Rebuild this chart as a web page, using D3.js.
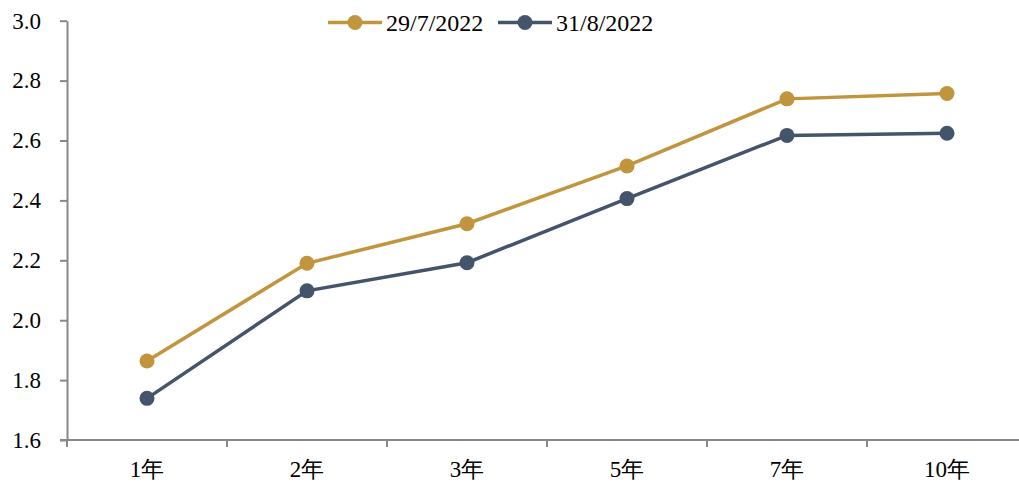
<!DOCTYPE html>
<html><head><meta charset="utf-8">
<script src="https://cdn.jsdelivr.net/npm/d3@7"></script>
</head><body style="margin:0">
<svg id="c" width="1019" height="482"></svg>
<script>
const categories = ["1年","2年","3年","5年","7年","10年"];
const seriesNames = ["29/7/2022","31/8/2022"];
const series1 = [1.864, 2.190, 2.322, 2.515, 2.739, 2.757];
const series2 = [1.739, 2.098, 2.192, 2.406, 2.617, 2.624];
const yTicks = [1.6,1.8,2.0,2.2,2.4,2.6,2.8,3.0];
const colors = ["#C0953D","#44546A"];

const svg = d3.select("#c");
const x = d3.scaleBand().domain(categories).range([67,1027]);
const y = d3.scaleLinear().domain([1.6,3.0]).range([440,20.7]);

// y axis line + ticks
const ya = svg.append("g").attr("transform","translate(67,0)")
  .call(d3.axisLeft(y).tickValues(yTicks).tickFormat("").tickSize(7).tickSizeOuter(0));
ya.select(".domain").attr("stroke","#888").attr("stroke-width",2);
ya.selectAll(".tick line").attr("stroke","#888").attr("stroke-width",2);
ya.selectAll(".tick text").remove();
svg.selectAll(".ylab").data(yTicks).join("text").attr("class","ylab")
  .attr("x",41).attr("y",d=>y(d)).attr("dy","0.34em").attr("text-anchor","end")
  .style("font-family",'"Liberation Serif"').style("font-size","23px").attr("fill","#000")
  .text(d=>d3.format(".1f")(d));

// x axis
svg.append("line").attr("x1",60).attr("x2",1019).attr("y1",440).attr("y2",440).attr("stroke","#888").attr("stroke-width",2);
const bounds = categories.map(c=>x(c)).concat([x.range()[1]]);
svg.selectAll(".bt").data(bounds).join("line").attr("class","bt")
  .attr("x1",d=>d).attr("x2",d=>d).attr("y1",440).attr("y2",447).attr("stroke","#888").attr("stroke-width",2);
svg.selectAll(".xlab").data(categories).join("text").attr("class","xlab")
  .attr("x",d=>x(d)+x.bandwidth()/2).attr("y",477).attr("text-anchor","middle")
  .style("font-family",'"Liberation Serif"').style("font-size","23px").attr("fill","#000")
  .text(d=>d);

const all = [series1, series2];
const line = d3.line().x((d,i)=>x(categories[i])+x.bandwidth()/2).y(d=>y(d));
all.forEach((s,k)=>{
  svg.append("path").datum(s).attr("d",line).attr("fill","none").attr("stroke",colors[k]).attr("stroke-width",3.5);
  svg.selectAll(".p"+k).data(s).join("circle").attr("class","p"+k)
    .attr("cx",(d,i)=>x(categories[i])+x.bandwidth()/2).attr("cy",d=>y(d)).attr("r",7.5).attr("fill",colors[k]);
});

// legend
const lx = [328, 498];
seriesNames.forEach((n,k)=>{
  const g = svg.append("g").attr("transform",`translate(${lx[k]},22.5)`);
  g.append("line").attr("x1",0).attr("x2",54).attr("stroke",colors[k]).attr("stroke-width",3.5);
  g.append("circle").attr("cx",27).attr("r",7.5).attr("fill",colors[k]);
  g.append("text").attr("x",58).attr("dy","0.35em")
    .style("font-family",'"Liberation Serif"').style("font-size","24px").attr("fill","#000").text(n);
});
</script>
</body></html>
